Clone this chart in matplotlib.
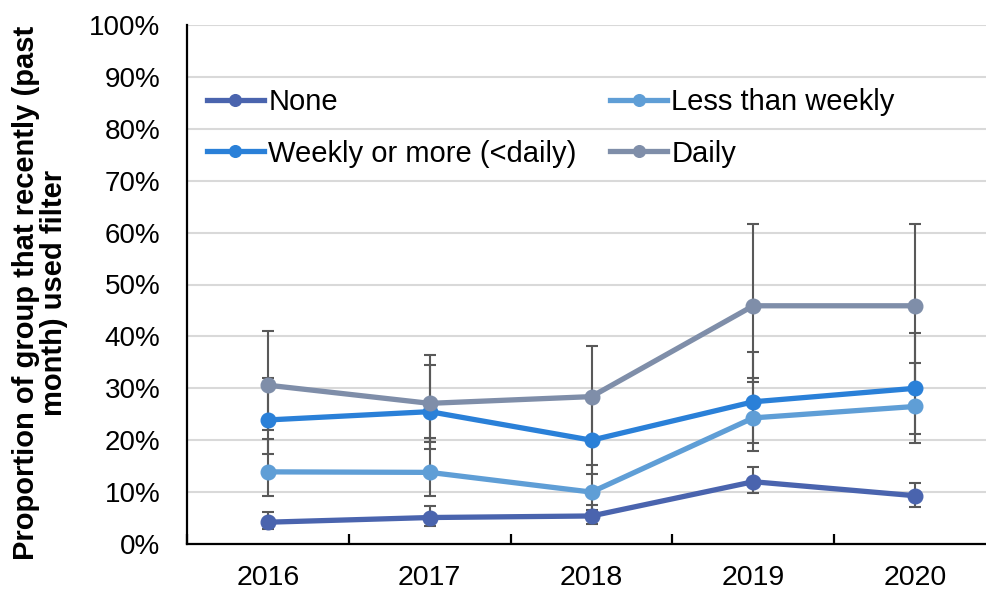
import matplotlib
matplotlib.use("Agg")
import matplotlib.pyplot as plt
from matplotlib.ticker import FuncFormatter, MultipleLocator

plt.rcParams['font.family'] = ['Liberation Sans', 'DejaVu Sans']

years = ['2016', '2017', '2018', '2019', '2020']

# Share of each group (percent) with lower / upper interval bounds
none_vals = [4.2, 5.1, 5.4, 12.0, 9.3]
none_lo = [2.9, 3.5, 3.9, 9.8, 7.2]
none_hi = [6.2, 7.3, 7.6, 14.8, 11.7]

less_vals = [13.9, 13.8, 10.0, 24.3, 26.5]
less_lo = [9.2, 9.2, 6.5, 17.9, 19.5]
less_hi = [20.2, 20.5, 15.2, 32.0, 34.8]

weekly_vals = [23.9, 25.5, 20.0, 27.4, 30.0]
weekly_lo = [17.3, 19.7, 13.5, 19.5, 21.1]
weekly_hi = [32.0, 34.4, 27.8, 37.0, 40.7]

daily_vals = [30.6, 27.1, 28.4, 45.9, 45.9]
daily_lo = [22.0, 18.4, 19.8, 31.2, 30.4]
daily_hi = [41.0, 36.4, 38.2, 61.6, 61.6]

series = [
    ('None', none_vals, none_lo, none_hi, '#4A64AE'),
    ('Less than weekly', less_vals, less_lo, less_hi, '#5F9ED6'),
    ('Weekly or more (<daily)', weekly_vals, weekly_lo, weekly_hi, '#2A80D8'),
    ('Daily', daily_vals, daily_lo, daily_hi, '#7F8EA9'),
]

fig = plt.figure(figsize=(9.87, 5.95), dpi=100)
ax = fig.add_axes([187 / 987, 1 - 544 / 595, (996 - 187) / 987, (544 - 25) / 595])

x = list(range(len(years)))
handles = {}
for name, vals, lo, hi, color in series:
    yerr = [[v - l for v, l in zip(vals, lo)], [h - v for v, h in zip(vals, hi)]]
    ax.errorbar(x, vals, yerr=yerr, fmt='none', ecolor='#595959',
                elinewidth=1.5, capsize=4.5, capthick=1.5, zorder=2)
    line, = ax.plot(x, vals, color=color, linewidth=3.8, marker='o',
                    markersize=10.5, zorder=3, label=name)
    handles[name] = line

ax.set_xlim(-0.5, 4.5)
ax.set_ylim(0, 100)
ax.yaxis.set_major_locator(MultipleLocator(10))
ax.yaxis.set_major_formatter(FuncFormatter(lambda v, p: f'{v:.0f}%'))
ax.set_xticks(x)
ax.set_xticklabels(years)
ax.set_xticks([i + 0.5 for i in range(-1, len(years))], minor=True)

ax.grid(axis='y', color='#D9D9D9', linewidth=1.5, zorder=0)
ax.set_axisbelow(True)
for side in ('top', 'right'):
    ax.spines[side].set_visible(False)
for side in ('left', 'bottom'):
    ax.spines[side].set_color('black')
    ax.spines[side].set_linewidth(1.6)

ax.tick_params(axis='y', length=0, pad=19, labelsize=20)
ax.tick_params(axis='x', which='major', length=0, pad=15, labelsize=20.5)
ax.tick_params(axis='x', which='minor', direction='in', length=7, width=1.6, color='black')

order = ['None', 'Weekly or more (<daily)', 'Less than weekly', 'Daily']
ax.legend([handles[n] for n in order], order, ncol=2, frameon=False,
          fontsize=21, loc='upper left', bbox_to_anchor=(0.0247, 0.878),
          handlelength=1.95, handletextpad=0.15, columnspacing=1.15,
          labelspacing=0.8, borderaxespad=0, borderpad=0, markerscale=0.8)

fig.text(40 / 987, 1 - 293 / 595,
         'Proportion of group that recently (past\nmonth) used filter',
         rotation=90, ha='center', va='center', multialignment='center',
         fontsize=21, fontweight='bold', linespacing=1.0)

fig.savefig('out.png', dpi=100)
